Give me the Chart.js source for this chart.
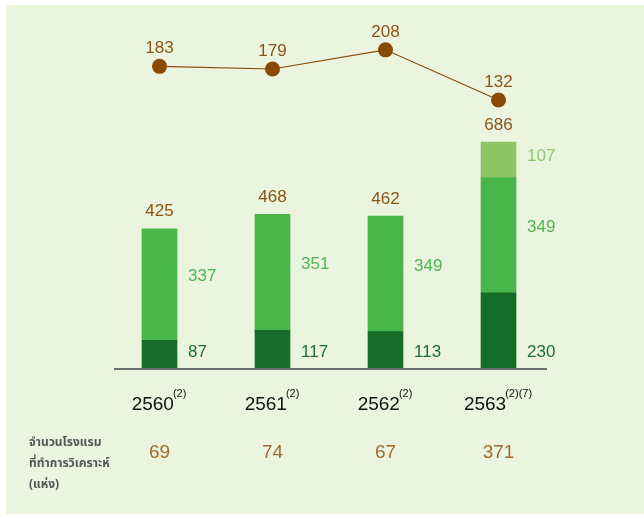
<!DOCTYPE html>
<html>
<head>
<meta charset="utf-8">
<script src="https://cdn.jsdelivr.net/npm/chart.js@4/dist/chart.umd.min.js"></script>
<style>
  html, body { margin: 0; padding: 0; background: #ffffff; }
  #wrap { position: absolute; left: 6px; top: 5px; width: 638px; height: 509px; background: #eaf4de; }
  #box { position: absolute; left: 0; top: 0; width: 644px; height: 519px; }
</style>
</head>
<body>
<div id="wrap"></div>
<div id="box"><canvas id="hotelChart" width="644" height="519"></canvas></div>
<script>
  'use strict';

  // data
  var years = ['2560', '2561', '2562', '2563'];
  var yearNotes = ['(2)', '(2)', '(2)', '(2)(7)'];
  var darkVals = [87, 117, 113, 230];
  var midVals = [337, 351, 349, 349];
  var lightVals = [null, null, null, 107];
  var totals = [425, 468, 462, 686];
  var lineVals = [183, 179, 208, 132];
  var hotelCounts = [69, 74, 67, 371];
  var rowLabel = ['จำนวนโรงแรม', 'ที่ทำการวิเคราะห์', '(แห่ง)'];

  var FONT = '"Liberation Sans", Arial, Helvetica, sans-serif';
  var THAI = 'Tahoma, "Noto Sans Thai", "Noto Sans", "DejaVu Sans", sans-serif';

  //-----------------------
  //- labels + baseline   -
  //-----------------------
  var labelPlugin = {
    id: 'labelPlugin',
    afterDatasetsDraw: function (chart) {
      var ctx = chart.ctx;
      var area = chart.chartArea;
      var xs = chart.scales.x;
      var ys = chart.scales.y;
      var y0 = ys.getPixelForValue(0);
      ctx.save();

      // baseline
      ctx.strokeStyle = '#707070';
      ctx.lineWidth = 2;
      ctx.beginPath();
      ctx.moveTo(area.left + 11, y0);
      ctx.lineTo(area.right - 8, y0);
      ctx.stroke();

      var darkMeta = chart.getDatasetMeta(0);
      var midMeta = chart.getDatasetMeta(1);
      var lightMeta = chart.getDatasetMeta(2);
      var lineMeta = chart.getDatasetMeta(3);

      ctx.textAlign = 'left';
      ctx.textBaseline = 'middle';
      ctx.font = '17px ' + FONT;
      years.forEach(function (yr, i) {
        var bar = darkMeta.data[i];
        var right = bar.x + bar.width / 2 + 11;

        ctx.fillStyle = '#1e6f33';
        ctx.fillText(String(darkVals[i]), right, y0 - 17);

        var m = midMeta.data[i];
        ctx.fillStyle = '#4db752';
        ctx.fillText(String(midVals[i]), right, (m.y + m.base) / 2 - 8);

        if (lightVals[i] !== null) {
          var l = lightMeta.data[i];
          ctx.fillStyle = '#8dca6e';
          ctx.fillText(String(lightVals[i]), right, (l.y + l.base) / 2 - 3);
        }

        // total above bar
        var topY = lightVals[i] !== null ? lightMeta.data[i].y : m.y;
        ctx.textAlign = 'center';
        ctx.fillStyle = '#8c5417';
        ctx.fillText(String(totals[i]), bar.x, topY - 17);

        // line point label
        var p = lineMeta.data[i];
        ctx.fillText(String(lineVals[i]), p.x, p.y - 18);
        ctx.textAlign = 'left';
      });

      // year labels with superscript notes
      years.forEach(function (yr, i) {
        var cx = xs.getPixelForValue(i);
        ctx.font = '19px ' + FONT;
        var w1 = ctx.measureText(yr).width;
        ctx.font = '11px ' + FONT;
        var w2 = ctx.measureText(yearNotes[i]).width;
        var start = cx - (w1 + w2) / 2;
        ctx.fillStyle = '#111111';
        ctx.textAlign = 'left';
        ctx.textBaseline = 'alphabetic';
        ctx.font = '19px ' + FONT;
        ctx.fillText(yr, start, 410);
        ctx.font = '11px ' + FONT;
        ctx.fillText(yearNotes[i], start + w1 - 1, 397);

        ctx.font = '19px ' + FONT;
        ctx.textAlign = 'center';
        ctx.textBaseline = 'middle';
        ctx.fillStyle = '#a5692d';
        ctx.fillText(String(hotelCounts[i]), cx, 453);
      });

      // row label
      ctx.font = 'bold 12px ' + THAI;
      ctx.fillStyle = '#555555';
      ctx.textAlign = 'left';
      ctx.textBaseline = 'middle';
      rowLabel.forEach(function (t, k) {
        ctx.fillText(t, 29, 444 + k * 21);
      });

      ctx.restore();
    }
  };

  var chartCanvas = document.getElementById('hotelChart').getContext('2d');

  var chartData = {
    labels: years,
    datasets: [
      {
        type: 'bar',
        label: 'dark',
        data: darkVals,
        backgroundColor: '#166c2b',
        barThickness: 35,
        order: 2
      },
      {
        type: 'bar',
        label: 'mid',
        data: midVals,
        backgroundColor: '#48b64a',
        barThickness: 35,
        order: 2
      },
      {
        type: 'bar',
        label: 'light',
        data: lightVals,
        backgroundColor: '#8cc665',
        barThickness: 35,
        order: 2
      },
      {
        type: 'line',
        label: 'line',
        data: lineVals,
        yAxisID: 'y1',
        borderColor: '#8a4a08',
        borderWidth: 1.2,
        pointRadius: 7.5,
        pointBackgroundColor: '#8a4800',
        pointBorderColor: '#8a4800',
        pointBorderWidth: 0,
        tension: 0,
        fill: false,
        order: 1
      }
    ]
  };

  var chartOptions = {
    responsive: false,
    animation: false,
    layout: { padding: { left: 103, right: 89, top: 30, bottom: 150 } },
    plugins: {
      legend: { display: false },
      tooltip: { enabled: false }
    },
    scales: {
      x: { display: false, stacked: true },
      y: { display: false, stacked: true, min: 0, max: 1025 },
      y1: { display: false, min: -275, max: 238 }
    }
  };

  new Chart(chartCanvas, {
    type: 'bar',
    data: chartData,
    options: chartOptions,
    plugins: [labelPlugin]
  });
</script>
</body>
</html>
